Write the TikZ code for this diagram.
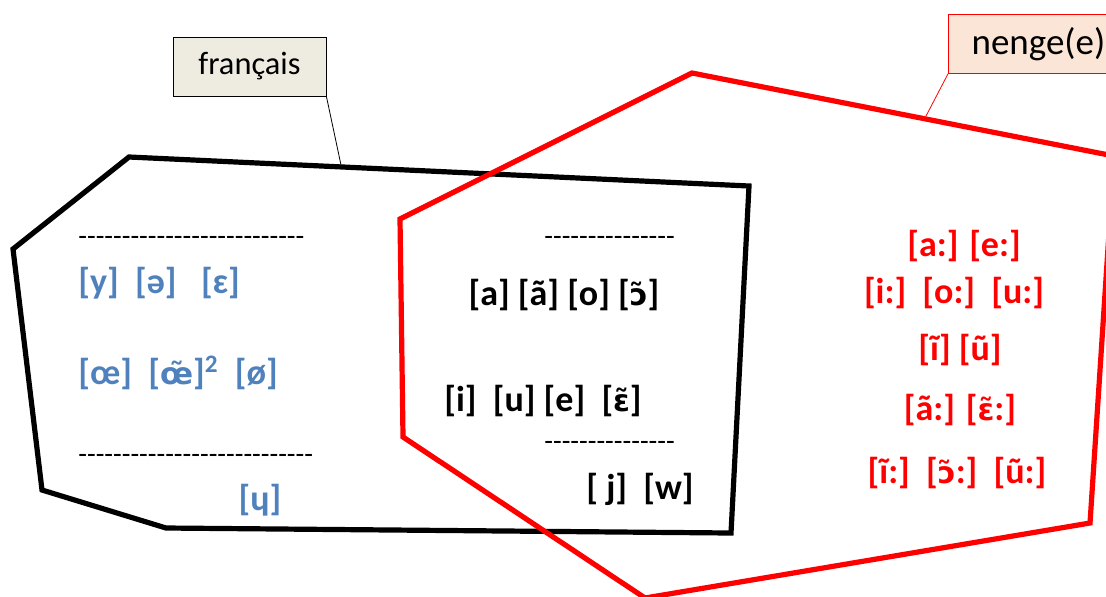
\documentclass[tikz,border=0pt]{standalone}
\usepackage{fontspec}
\setmainfont{Carlito}
\newfontfamily\nasfont{DejaVu Sans}[Scale=0.84]
\usepackage{xcolor}
\usepackage{tikz}
\usetikzlibrary{positioning,calc}

\definecolor{frblue}{HTML}{4F81BD}
\definecolor{frbox}{HTML}{EEECE1}
\definecolor{ngbox}{HTML}{FBE5D6}

% nasal vowel with combining tilde
\newcommand{\nas}[1]{{\nasfont\bfseries #1}}
% a row of hyphens
\newcommand{\hyphrow}[1]{\foreach \k in {1,...,#1}{-}}

\begin{document}
\begin{tikzpicture}[x=0.5pt,y=-0.5pt,
	snd/.style={font=\fontsize{18}{20}\selectfont\bfseries, inner sep=0pt},
	dashes/.style={font=\fontsize{14.2}{16}\selectfont, inner sep=0pt, anchor=west},
	tag/.style={draw, minimum height=29.5pt}]
	\useasboundingbox (0,0) rectangle (1106,596);
	\clip (0,0) rectangle (1106,596);

	% francais
	\draw[line width=2.6pt, line join=miter] (13,249) -- (129,157) -- (749,186) -- (731,533) -- (166,528) -- (42,490) -- cycle;
	% nenge(e)
	\draw[red, line width=2.6pt, line join=miter] (400,219) -- (692,73) -- (1114,156) -- (1090,523) -- (645,598) -- (403,437) -- cycle;

	\node[tag, fill=frbox, minimum width=76.5pt, font=\fontsize{16.2}{18}\selectfont] (fr) at (249.5,66.5) {français};
	\node[tag, red, fill=ngbox, text=black, minimum width=90pt, anchor=north west, font=\fontsize{18.5}{20}\selectfont] (ng) at (948,14) {nenge(e)};
	\coordinate (frend) at (341,165);
	\coordinate (ngend) at (926,116);
	\draw[thin] (fr.south east) -- (frend);
	\draw[thin, red] (ng.south west) -- (ngend);

	% only francais
	\node[dashes] (d1) at (78,241) {\hyphrow{26}};
	\node[snd, frblue, anchor=west] (y1) at (78,283) {[y]\ \ [ə]\ \ \ [ɛ]};
	\node[snd, frblue, anchor=west] (y2) at (78,373) {[œ]\ \ [\nas{œ̃}]\textsuperscript{2}\ \ [ø]};
	\node[dashes] (d2) at (78,459) {\hyphrow{27}};
	\node[snd, frblue] (y3) at (260,500) {[ɥ]};

	% both
	\node[dashes] (d3) at (544,241) {\hyphrow{15}};
	\node[snd] (b1) at (564,295) {[a] [ã] [o] [\nas{ɔ̃}]};
	\node[snd] (b2) at (543,401) {[i]\ \ [u] [e]\ \ [\nas{ɛ̃}]};
	\node[dashes] (d4) at (544,446) {\hyphrow{15}};
	\node[snd] (b3) at (640,489) {[ j]\ \ [w]};

	% only nenge(e)
	\node[snd, red] (n1) at (964,246) {[a:] [e:]};
	\node[snd, red] (n2) at (954,293) {[i:]\ \ [o:]\ \ [u:]};
	\node[snd, red] (n3) at (960,350) {[ĩ] [ũ]};
	\node[snd, red] (n4) at (960,410) {[ã:] [\nas{ɛ̃}:]};
	\node[snd, red] (n5) at (957,473) {[ĩ:]\ \ [\nas{ɔ̃}:]\ \ [ũ:]};
\end{tikzpicture}
\end{document}
